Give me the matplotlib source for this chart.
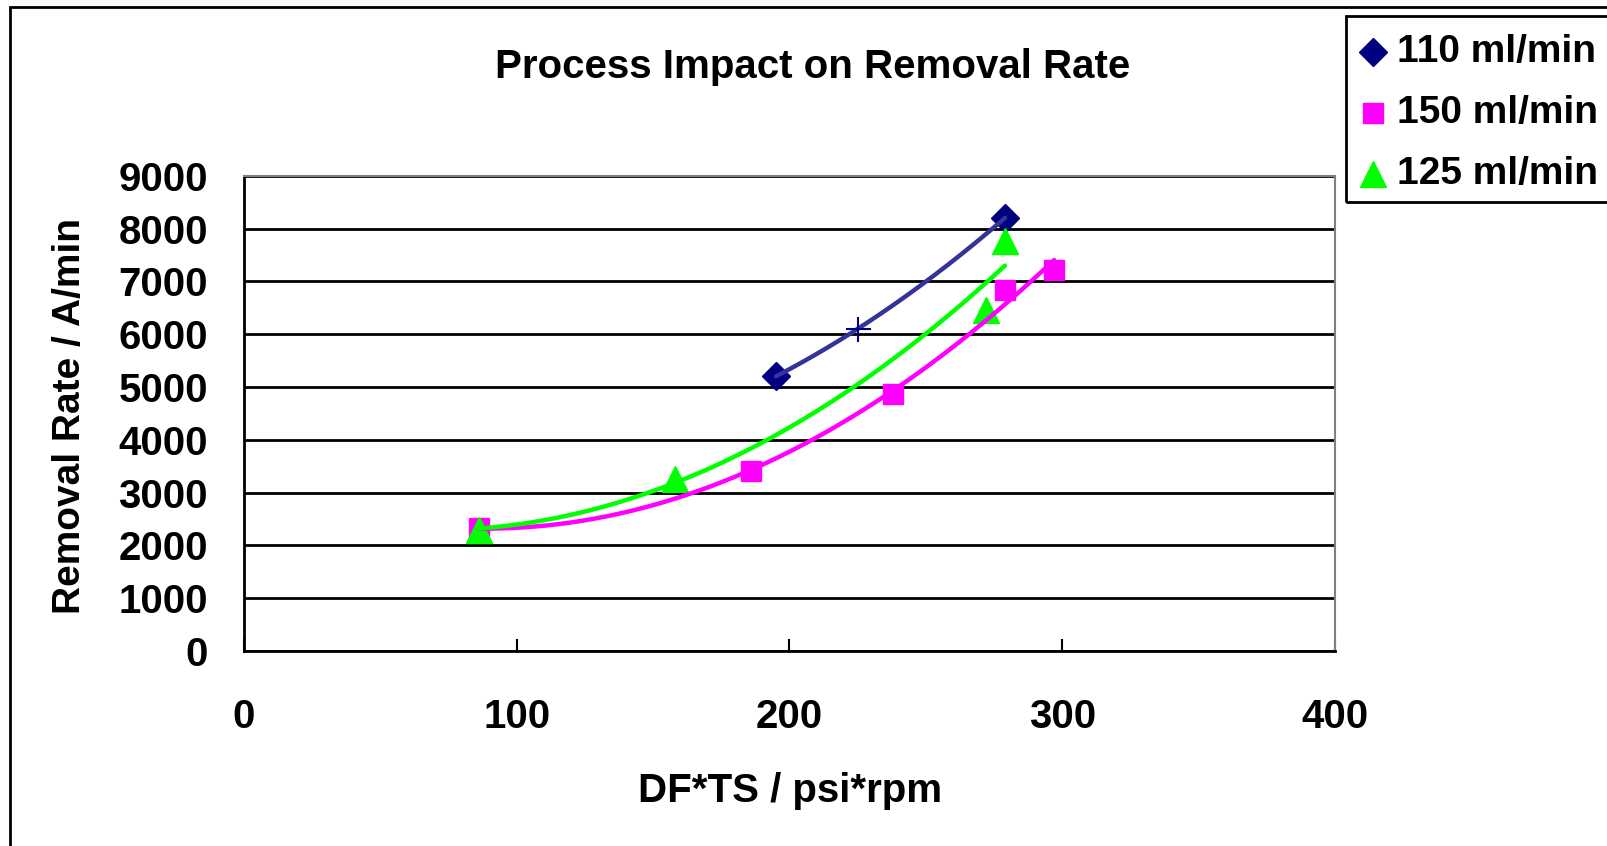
import numpy as np
import matplotlib
matplotlib.use("Agg")
import matplotlib.pyplot as plt
from matplotlib.lines import Line2D
from matplotlib.patches import Rectangle

# ---- data ----
x_110 = [195, 225, 279]
y_110 = [5200, 6100, 8200]
x_150 = [86, 186, 238, 279, 297]
y_150 = [2330, 3400, 4870, 6830, 7220]
x_125 = [86, 158, 272, 279]
y_125 = [2290, 3260, 6460, 7760]
labels = ["110 ml/min", "150 ml/min", "125 ml/min"]
xticks = [0, 100, 200, 300, 400]
yticks = list(range(0, 9001, 1000))

W, H = 1608, 846
plt.rcParams['font.family'] = ['Liberation Sans', 'DejaVu Sans']
plt.rcParams['font.weight'] = 'bold'
FS = 28
FS_T = 29

fig = plt.figure(figsize=(W / 100, H / 100), dpi=100)
ax = fig.add_axes([244 / W, 1 - 651 / H, (1335 - 244) / W, (651 - 175.7) / H])

ax.set_xlim(0, 400)
ax.set_ylim(0, 9000)
ax.set_xticks(xticks)
ax.set_yticks(yticks)
ax.tick_params(axis='x', direction='in', length=9, width=1.5, pad=34, labelsize=FS_T)
ax.tick_params(axis='y', direction='in', length=0, width=1.5, pad=26, labelsize=FS_T)
for lab in ax.get_xticklabels() + ax.get_yticklabels():
    lab.set_fontweight('bold')
ax.yaxis.grid(True, color='black', linewidth=2)
ax.set_axisbelow(True)
for s in ['left', 'bottom']:
    ax.spines[s].set_color('black')
    ax.spines[s].set_linewidth(2)
for s in ['top', 'right']:
    ax.spines[s].set_color('#808080')
    ax.spines[s].set_linewidth(1.5)

navy = '#000080'
trend_blue = '#333399'
pink = '#FF00FF'
green = '#00FF00'

# markers
ax.plot(x_110[::2], y_110[::2], linestyle='none', marker='D', ms=14, color=navy, zorder=3)
ax.plot([x_110[1]], [y_110[1]], linestyle='none', marker='+', ms=18, mew=1.5, color=navy, zorder=5)
ax.plot(x_150, y_150, linestyle='none', marker='s', ms=15, color=pink, zorder=3)
ax.plot(x_125, y_125, linestyle='none', marker='^', ms=19, color=green, zorder=3)

# polynomial (order 2) trendlines
for xs, ys, c in [(x_110, y_110, trend_blue), (x_150, y_150, pink), (x_125, y_125, green)]:
    coef = np.polyfit(xs, ys, 2)
    xx = np.linspace(min(xs), max(xs), 200)
    ax.plot(xx, np.polyval(coef, xx), color=c, linewidth=3.2, zorder=4, solid_capstyle='round')

# texts
fig.text(813 / W, 1 - 67 / H, "Process Impact on Removal Rate", ha='center', va='center',
         fontsize=FS_T, fontweight='bold')
fig.text(790 / W, 1 - 791 / H, "DF*TS / psi*rpm", ha='center', va='center',
         fontsize=FS_T, fontweight='bold')
fig.text(70 / W, 1 - 416 / H, "Removal Rate / A/min", ha='center', va='center',
         rotation=90, fontsize=FS, fontweight='bold')

# outer chart border
fig.add_artist(Rectangle((10 / W, -0.5), 2.0, 1.5 - 7 / H, transform=fig.transFigure,
                         fill=False, edgecolor='black', linewidth=2))

# legend
fig.add_artist(Rectangle((1346 / W, 1 - 201.7 / H), 1.0, (201.7 - 15.7) / H,
                         transform=fig.transFigure, fill=False, edgecolor='black', linewidth=2))
leg_rows = [52, 113, 174]
leg_markers = [('D', 14, navy), ('s', 15, pink), ('^', 19, green)]
for row, (m, ms, c), lab in zip(leg_rows, leg_markers, labels):
    fig.add_artist(Line2D([1373 / W], [1 - row / H], marker=m, ms=ms, color=c,
                          linestyle='none', transform=fig.transFigure))
    fig.text(1397 / W, 1 - row / H, lab, ha='left', va='center', fontsize=FS, fontweight='bold')

fig.savefig("out.png", dpi=100)
